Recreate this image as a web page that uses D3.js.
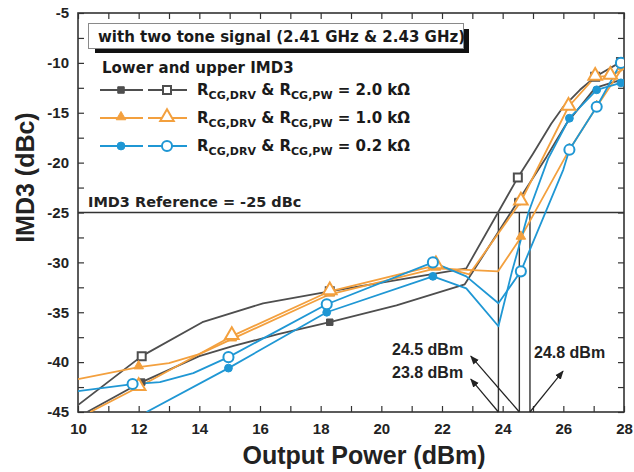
<!DOCTYPE html>
<html>
<head>
<meta charset="utf-8">
<script src="https://cdn.jsdelivr.net/npm/d3@7"></script>
<style>
  html, body { margin: 0; padding: 0; background: #fff; }
  svg { display: block; }
</style>
</head>
<body>
<svg id="chart" width="634" height="472"></svg>
<script>
// ---------------- DATA ----------------
const xTicks = [10, 12, 14, 16, 18, 20, 22, 24, 26, 28];
const yTicks = [-45, -40, -35, -30, -25, -20, -15, -10, -5];
const referenceLevel = -25;
const crossings = [23.86, 24.55, 24.9];

// R = 2.0 kOhm
const grayLower = [[10.3,-45],[12.1,-42.0],[14.0,-39.4],[15.1,-38.4],[16.6,-37.2],[18.3,-36.0],[20.5,-34.3],[22.75,-32.2],[24.5,-23.9],[25.45,-19.4],[26.1,-16.1],[27.05,-12.5],[27.9,-11.7]];
const grayLowerMarks = [[12.1,-42.0],[18.3,-36.0],[24.5,-23.9]];
const grayUpper = [[10,-44.3],[12.1,-39.4],[14.1,-36.0],[16.1,-34.1],[18.3,-32.9],[22.8,-30.6],[24.5,-21.5],[25.0,-19.1],[25.6,-16.1],[26.0,-14.4],[26.55,-12.7],[27.05,-11.4],[27.9,-9.9]];
const grayUpperMarks = [[12.1,-39.4],[18.3,-32.9],[24.5,-21.5],[27.05,-11.4],[27.9,-9.9]];

// R = 1.0 kOhm
const orangeLower = [[10,-41.7],[12,-40.5],[13,-40.1],[14,-39.2],[15.07,-37.7],[18.3,-33.2],[21.8,-30.6],[23.85,-30.9],[24.6,-27.5],[26.2,-18.7],[27.1,-14.4],[27.95,-10.5]];
const orangeLowerMarks = [[12,-40.5],[15.07,-37.7],[18.3,-33.2],[21.8,-30.6],[24.6,-27.5],[26.2,-18.7],[27.1,-14.4],[27.95,-10.5]];
const orangeUpper = [[10.4,-45],[12,-42.5],[15.07,-37.4],[18.3,-32.9],[21.8,-30.3],[22.9,-31.2],[24.6,-23.9],[26.17,-14.4],[27.05,-11.4],[27.55,-11.3],[27.95,-10.7]];
const orangeUpperMarks = [[12,-42.5],[15.07,-37.4],[18.3,-32.9],[21.8,-30.3],[24.6,-23.9],[26.17,-14.4],[27.05,-11.4],[27.55,-11.3]];

// R = 0.2 kOhm
const blueLower = [[12.26,-45],[14.96,-40.6],[18.2,-35.0],[21.7,-31.4],[22.8,-32.6],[23.86,-36.4],[24.3,-31.0],[24.85,-25.0],[25.5,-19.6],[26.2,-15.55],[27.1,-12.7],[27.9,-12.0]];
const blueLowerMarks = [[14.96,-40.6],[18.2,-35.0],[21.7,-31.4],[26.2,-15.55],[27.1,-12.7],[27.9,-12.0]];
const blueUpper = [[10,-42.9],[11.8,-42.2],[12.7,-42.0],[13.8,-41.1],[14.96,-39.5],[18.2,-34.2],[21.7,-30.0],[22.8,-31.4],[23.86,-34.1],[24.6,-30.9],[26.0,-20.7],[26.2,-18.7],[27.1,-14.4],[27.9,-10.0]];
const blueUpperMarks = [[11.8,-42.2],[14.96,-39.5],[18.2,-34.2],[21.7,-30.0],[24.6,-30.9],[26.2,-18.7],[27.1,-14.4],[27.9,-10.0]];

const legendLabels = ["2.0 k\u03A9", "1.0 k\u03A9", "0.2 k\u03A9"];
const annotations = [
  {text: "24.5 dBm", from: 24.55, to: [22.95, -39.4]},
  {text: "23.8 dBm", from: 23.86, to: [22.95, -41.7]},
  {text: "24.8 dBm", from: 24.9, to: [25.99, -40.9]}
];

// ---------------- SETUP ----------------
const COLORS = { gray: "#4e4e4e", orange: "#f3a03e", blue: "#1f97d4" };
const svg = d3.select("#chart");
const L = 78, R = 624, T = 13, B = 412;
const x = d3.scaleLinear().domain([10, 28]).range([L, R]);
const y = d3.scaleLinear().domain([-45, -5]).range([B, T]);

svg.append("defs").append("clipPath").attr("id", "plotclip")
  .append("rect").attr("x", L).attr("y", T).attr("width", R - L).attr("height", B - T);

const tickFont = "'Liberation Sans', Arial, sans-serif";
const legFont = "'DejaVu Sans', Verdana, sans-serif";

// Axes (ticks inward, mirrored)
const minorX = d3.range(10, 28.01, 1);
const minorY = d3.range(-45, -4.99, 2.5);
const axG = svg.append("g");
function tickSet(axisGen, transform) {
  const g = axG.append("g").attr("transform", transform).call(axisGen);
  g.select(".domain").remove();
  g.selectAll("line").attr("stroke", "#333").attr("stroke-width", 1.2);
  return g;
}
tickSet(d3.axisBottom(x).tickValues(minorX).tickSize(-6).tickFormat(""), `translate(0,${B})`);
tickSet(d3.axisTop(x).tickValues(minorX).tickSize(-6).tickFormat(""), `translate(0,${T})`);
tickSet(d3.axisLeft(y).tickValues(minorY).tickSize(-6).tickFormat(""), `translate(${L},0)`);
tickSet(d3.axisRight(y).tickValues(minorY).tickSize(-6).tickFormat(""), `translate(${R},0)`);

// tick labels
const xl = axG.append("g").attr("transform", `translate(0,${B})`)
  .call(d3.axisBottom(x).tickValues(xTicks).tickSize(0).tickPadding(11).tickFormat(d3.format("d")));
xl.select(".domain").remove();
xl.selectAll("text").attr("font-family", tickFont).attr("font-weight", "bold").attr("font-size", 15).attr("fill", "#222");
const yl = axG.append("g").attr("transform", `translate(${L},0)`)
  .call(d3.axisLeft(y).tickValues(yTicks).tickSize(0).tickPadding(9).tickFormat(d => d3.format("d")(d).replace("\u2212", "-")));
yl.select(".domain").remove();
yl.selectAll("text").attr("font-family", tickFont).attr("font-weight", "bold").attr("font-size", 15).attr("fill", "#222");

// frame
svg.append("rect").attr("x", L).attr("y", T).attr("width", R - L).attr("height", B - T)
  .attr("fill", "none").attr("stroke", "#333").attr("stroke-width", 1.6);

// axis titles
svg.append("text").attr("x", (L + R) / 2 + 13).attr("y", 464).attr("text-anchor", "middle")
  .attr("font-family", tickFont).attr("font-weight", "bold").attr("font-size", 25).attr("fill", "#222")
  .text("Output Power (dBm)");
svg.append("text").attr("transform", `translate(34,${y(-21.5)}) rotate(-90)`).attr("text-anchor", "middle")
  .attr("font-family", tickFont).attr("font-weight", "bold").attr("font-size", 25).attr("fill", "#222")
  .text("IMD3 (dBc)");

// reference line & crossing verticals
const refG = svg.append("g").attr("stroke", "#333").attr("stroke-width", 1.4);
refG.append("line").attr("x1", x(10)).attr("x2", x(28)).attr("y1", y(referenceLevel)).attr("y2", y(referenceLevel));
refG.selectAll("line.v").data(crossings).join("line").attr("class", "v")
  .attr("x1", d => x(d)).attr("x2", d => x(d)).attr("y1", y(referenceLevel)).attr("y2", y(-45));
svg.append("text").attr("x", 88).attr("y", 207)
  .attr("font-family", legFont).attr("font-weight", "bold").attr("font-size", 14.5).attr("fill", "#222")
  .text("IMD3 Reference = -25 dBc");

// ---------------- SERIES ----------------
const plot = svg.append("g").attr("clip-path", "url(#plotclip)");
const line = d3.line().x(d => x(d[0])).y(d => y(d[1]));
const series = [
  {data: grayLower, marks: grayLowerMarks, color: COLORS.gray, shape: "square", filled: true},
  {data: grayUpper, marks: grayUpperMarks, color: COLORS.gray, shape: "square", filled: false},
  {data: orangeLower, marks: orangeLowerMarks, color: COLORS.orange, shape: "triangle", filled: true},
  {data: orangeUpper, marks: orangeUpperMarks, color: COLORS.orange, shape: "triangle", filled: false},
  {data: blueLower, marks: blueLowerMarks, color: COLORS.blue, shape: "circle", filled: true},
  {data: blueUpper, marks: blueUpperMarks, color: COLORS.blue, shape: "circle", filled: false}
];
function symbolPath(shape, filled) {
  if (shape === "square") return d3.symbol(d3.symbolSquare, filled ? 42 : 64)();
  if (shape === "triangle") return d3.symbol(d3.symbolTriangle, filled ? 40 : 80)();
  return d3.symbol(d3.symbolCircle, filled ? 48 : 80)();
}
function drawMarker(g, cx, cy, s) {
  g.append("path").attr("d", symbolPath(s.shape, s.filled))
    .attr("transform", `translate(${cx},${cy})` + (s.shape === "triangle" ? " translate(0,-1)" : ""))
    .attr("fill", s.filled ? s.color : "#fff")
    .attr("stroke", s.color).attr("stroke-width", s.filled ? 1 : 2);
}
series.forEach(s => {
  plot.append("path").datum(s.data).attr("d", line).attr("fill", "none")
    .attr("stroke", s.color).attr("stroke-width", 1.8).attr("stroke-linejoin", "round");
});
series.forEach(s => {
  s.marks.forEach(m => drawMarker(plot, x(m[0]), y(m[1]), s));
});

// ---------------- ANNOTATIONS ----------------
const defs = svg.select("defs");
defs.append("marker").attr("id", "arrow").attr("viewBox", "0 0 10 10").attr("refX", 9).attr("refY", 5)
  .attr("markerWidth", 9).attr("markerHeight", 9).attr("markerUnits", "userSpaceOnUse").attr("orient", "auto")
  .append("path").attr("d", "M0,1 L10,5 L0,9 Z").attr("fill", "#222");
annotations.forEach(a => {
  svg.append("line").attr("x1", x(a.from)).attr("y1", y(-45)).attr("x2", x(a.to[0])).attr("y2", y(a.to[1]))
    .attr("stroke", "#222").attr("stroke-width", 1.2).attr("marker-end", "url(#arrow)");
});
const annPos = [[392, 355], [392, 378], [534, 358]];
annotations.forEach((a, i) => {
  svg.append("text").attr("x", annPos[i][0]).attr("y", annPos[i][1])
    .attr("font-family", tickFont).attr("font-weight", "bold").attr("font-size", 16).attr("fill", "#222")
    .text(a.text);
});

// ---------------- LEGEND ----------------
const lg = svg.append("g");
lg.append("rect").attr("x", 95).attr("y", 48).attr("width", 374).attr("height", 5).attr("fill", "#111");
lg.append("rect").attr("x", 463).attr("y", 29).attr("width", 6).attr("height", 24).attr("fill", "#111");
lg.append("rect").attr("x", 88.5).attr("y", 23.5).attr("width", 375).attr("height", 25)
  .attr("fill", "#fff").attr("stroke", "#8a8a8a").attr("stroke-width", 1);
lg.append("text").attr("x", 98).attr("y", 42)
  .attr("font-family", legFont).attr("font-weight", "bold").attr("font-size", 15).attr("fill", "#1a1a1a")
  .text("with two tone signal (2.41 GHz & 2.43 GHz)");
lg.append("text").attr("x", 102).attr("y", 73)
  .attr("font-family", legFont).attr("font-weight", "bold").attr("font-size", 15).attr("fill", "#1a1a1a")
  .text("Lower and upper IMD3");

const rowY = [90, 118, 146];
[0, 1, 2].forEach(i => {
  const sf = series[i * 2], so = series[i * 2 + 1];
  const cy = rowY[i];
  lg.append("line").attr("x1", 100).attr("x2", 143).attr("y1", cy).attr("y2", cy)
    .attr("stroke", sf.color).attr("stroke-width", 1.8);
  lg.append("line").attr("x1", 148).attr("x2", 187).attr("y1", cy).attr("y2", cy)
    .attr("stroke", so.color).attr("stroke-width", 1.8);
  drawMarker(lg, 121, cy, sf);
  drawMarker(lg, 167, cy, so);
  const t = lg.append("text").attr("x", 197).attr("y", cy + 5)
    .attr("font-family", legFont).attr("font-weight", "bold").attr("font-size", 15).attr("fill", "#1a1a1a");
  t.append("tspan").text("R");
  t.append("tspan").attr("font-size", 11).attr("dy", 4).text("CG,DRV");
  t.append("tspan").attr("dy", -4).text(" & R");
  t.append("tspan").attr("font-size", 11).attr("dy", 4).text("CG,PW");
  t.append("tspan").attr("dy", -4).text(" = " + legendLabels[i]);
});
</script>
</body>
</html>
